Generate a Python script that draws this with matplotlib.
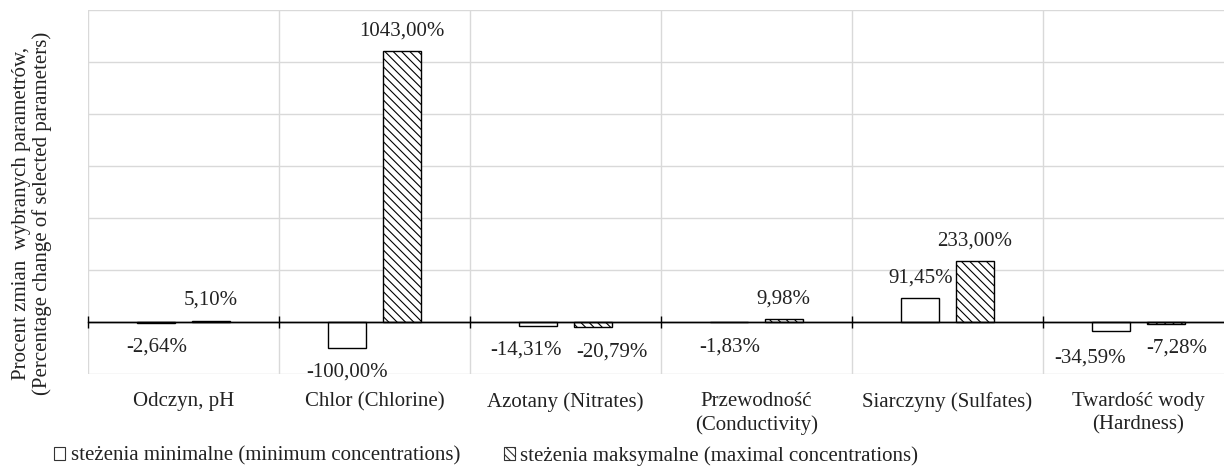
import numpy as np
import matplotlib
matplotlib.use('Agg')
import matplotlib.pyplot as plt
from matplotlib.patches import Rectangle

plt.rcParams['font.family'] = ['Liberation Serif', 'DejaVu Serif']
plt.rcParams['hatch.linewidth'] = 0.8

categories = ['Odczyn, pH', 'Chlor (Chlorine)', 'Azotany (Nitrates)',
              'Przewodność\n(Conductivity)', 'Siarczyny (Sulfates)', 'Twardość wody\n(Hardness)']
min_vals = [-2.64, -100.00, -14.31, -1.83, 91.45, -34.59]
max_vals = [5.10, 1043.00, -20.79, 9.98, 233.00, -7.28]
series_names = ['steżenia minimalne (minimum concentrations)',
                'steżenia maksymalne (maximal concentrations)']
ylabel = 'Procent zmian  wybranych parametrów,\n(Percentage change of selected parameters)'

FS = 15
TXT = '#222222'
ymin, ymax = -200, 1200

fig = plt.figure(figsize=(12.24, 4.68), dpi=100)
ax = fig.add_axes([88 / 1224, 1 - 374 / 468, (1234 - 88) / 1224, (374 - 10) / 468])

x = np.arange(len(categories))
w = 0.2
off = 0.142
b1 = ax.bar(x - off, min_vals, w, facecolor='white', edgecolor='black', linewidth=1.0, zorder=3)
b2 = ax.bar(x + off, max_vals, w, facecolor='white', edgecolor='black', linewidth=1.0,
            hatch='\\\\\\\\', zorder=3)

def fmt(v):
    return f'{v:.2f}'.replace('.', ',') + '%'

# small label nudges (points) where Excel pushed crowded labels apart
nudge = {(0, 2): (-8.6, 0), (1, 2): (13.7, 0), (0, 5): (-15, -2), (1, 5): (8, 0)}

for s, (bars, vals) in enumerate(((b1, min_vals), (b2, max_vals))):
    for i, (rect, v) in enumerate(zip(bars, vals)):
        cx = rect.get_x() + rect.get_width() / 2
        dx, ddy = nudge.get((s, i), (0, 0))
        dy = 14.5 if v >= 0 else -17.5
        ax.annotate(fmt(v), (cx, v), xytext=(dx, dy + ddy), textcoords='offset points',
                    ha='center', va='center', fontsize=FS, color=TXT)

ax.set_xlim(-0.5, len(categories) - 0.5)
ax.set_ylim(ymin, ymax)
ax.set_yticks(np.arange(ymin, ymax + 1, 200))
ax.tick_params(axis='y', length=0, labelleft=False)
ax.set_xticks(x)
ax.set_xticklabels(categories, fontsize=FS, color=TXT, linespacing=1.3)
ax.tick_params(axis='x', which='major', length=0, pad=13)
ax.set_xticks(np.arange(-0.5, len(categories), 1), minor=True)
ax.tick_params(axis='x', which='minor', length=0)
ax.grid(axis='y', which='major', color='#d9d9d9', linewidth=1.0, zorder=0)
ax.grid(axis='x', which='minor', color='#d9d9d9', linewidth=1.0, zorder=0)
for s in ax.spines.values():
    s.set_visible(False)

# zero line with category-boundary ticks
ax.axhline(0, color='black', linewidth=1.0, zorder=4)
zero_frac = (0 - ymin) / (ymax - ymin)
sec = ax.secondary_xaxis(zero_frac)
sec.set_zorder(5)
sec.set_xticks(np.arange(-0.5, len(categories), 1))
sec.tick_params(direction='inout', length=8, width=1.0, labelbottom=False, labeltop=False,
                color='black')
sec.spines['bottom'].set_color('black')
sec.spines['bottom'].set_linewidth(1.0)

fig.text(32 / 1224, 1 - 213 / 468, ylabel, rotation=90, ha='center', va='center',
         fontsize=FS, color=TXT, multialignment='center', linespacing=1.1)

handles = [Rectangle((0, 0), 1, 1, facecolor='white', edgecolor='#333333', linewidth=0.8),
           Rectangle((0, 0), 1, 1, facecolor='white', edgecolor='#333333', linewidth=0.8,
                     hatch='\\\\\\\\')]
fig.legend(handles, series_names, loc='center left', bbox_to_anchor=(54 / 1224, 1 - 456 / 468),
           ncol=2, frameon=False, fontsize=FS, handlelength=0.55, handleheight=0.55,
           handletextpad=0.25, columnspacing=2.1, borderaxespad=0, borderpad=0,
           labelcolor=TXT)

fig.savefig('out.png', dpi=100)
